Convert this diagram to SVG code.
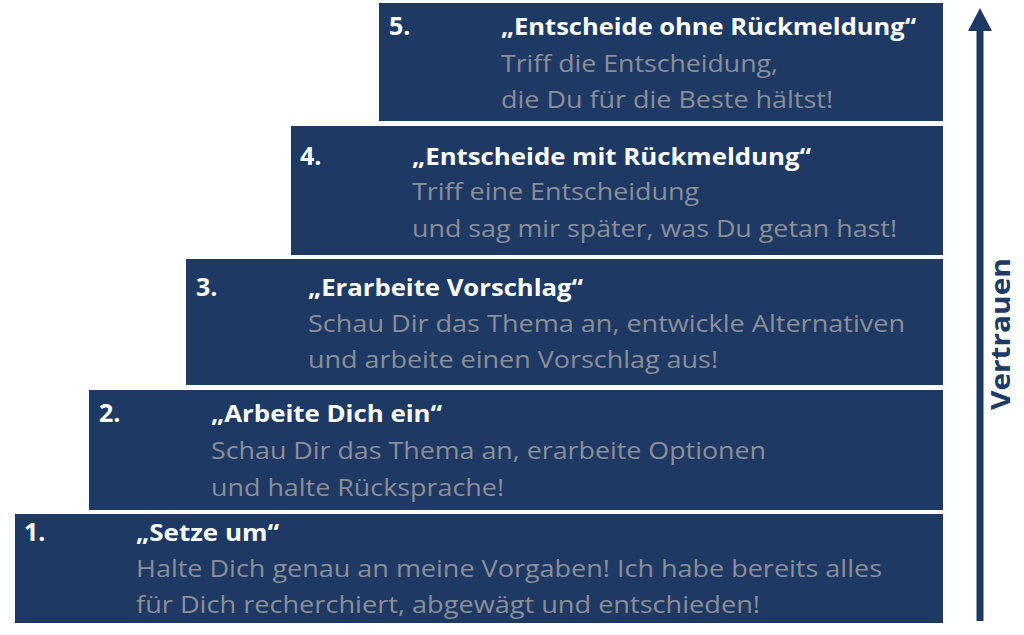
<svg xmlns="http://www.w3.org/2000/svg" width="1024" height="635" viewBox="0 0 1024 635">
<style>
.box{fill:#1e3963}
.num{font-family:"Open Sans","Liberation Sans",sans-serif;font-weight:bold;font-size:25px;fill:#ffffff}
.ttl{font-family:"Open Sans","Liberation Sans",sans-serif;font-weight:bold;font-size:24px;fill:#ffffff}
.body{font-family:"Open Sans","Liberation Sans",sans-serif;font-size:24px;fill:#8a8e98}
.lbl{font-family:"Open Sans","Liberation Sans",sans-serif;font-weight:bold;font-size:27px;fill:#1e3963}
</style>
<rect width="1024" height="635" fill="#ffffff"/>
<g id="step5">
<rect class="box" x="379" y="3" width="564" height="118"/>
<text class="num" x="389" y="35">5.</text>
<text class="ttl" x="501" y="35" textLength="415" lengthAdjust="spacingAndGlyphs">„Entscheide ohne Rückmeldung“</text>
<text class="body" x="501" y="72" textLength="277" lengthAdjust="spacingAndGlyphs">Triff die Entscheidung,</text>
<text class="body" x="501" y="108" textLength="332" lengthAdjust="spacingAndGlyphs">die Du für die Beste hältst!</text>
</g>
<g id="step4">
<rect class="box" x="291" y="126" width="652" height="129"/>
<text class="num" x="300" y="165">4.</text>
<text class="ttl" x="412" y="165" textLength="399" lengthAdjust="spacingAndGlyphs">„Entscheide mit Rückmeldung“</text>
<text class="body" x="412" y="200" textLength="287" lengthAdjust="spacingAndGlyphs">Triff eine Entscheidung</text>
<text class="body" x="412" y="237" textLength="485" lengthAdjust="spacingAndGlyphs">und sag mir später, was Du getan hast!</text>
</g>
<g id="step3">
<rect class="box" x="186" y="259" width="757" height="126"/>
<text class="num" x="196" y="296">3.</text>
<text class="ttl" x="308" y="296" textLength="275" lengthAdjust="spacingAndGlyphs">„Erarbeite Vorschlag“</text>
<text class="body" x="308" y="332" textLength="597" lengthAdjust="spacingAndGlyphs">Schau Dir das Thema an, entwickle Alternativen</text>
<text class="body" x="308" y="368" textLength="410" lengthAdjust="spacingAndGlyphs">und arbeite einen Vorschlag aus!</text>
</g>
<g id="step2">
<rect class="box" x="89" y="390" width="854" height="120"/>
<text class="num" x="99" y="422">2.</text>
<text class="ttl" x="211" y="422" textLength="231" lengthAdjust="spacingAndGlyphs">„Arbeite Dich ein“</text>
<text class="body" x="211" y="459" textLength="555" lengthAdjust="spacingAndGlyphs">Schau Dir das Thema an, erarbeite Optionen</text>
<text class="body" x="211" y="496" textLength="293" lengthAdjust="spacingAndGlyphs">und halte Rücksprache!</text>
</g>
<g id="step1">
<rect class="box" x="15" y="514" width="928" height="109"/>
<text class="num" x="24" y="541">1.</text>
<text class="ttl" x="136" y="541" textLength="143" lengthAdjust="spacingAndGlyphs">„Setze um“</text>
<text class="body" x="136" y="577" textLength="746" lengthAdjust="spacingAndGlyphs">Halte Dich genau an meine Vorgaben! Ich habe bereits alles</text>
<text class="body" x="136" y="613" textLength="624" lengthAdjust="spacingAndGlyphs">für Dich recherchiert, abgewägt und entschieden!</text>
</g>
<g id="connectors">
<line x1="980" y1="621" x2="980" y2="30" stroke="#1e3963" stroke-width="7"/>
<path d="M968,31 L980,8 L992,31 z" fill="#1e3963"/>
</g>
<g id="axis-label">
<text class="lbl" transform="translate(1010,410) rotate(-90)" textLength="152" lengthAdjust="spacingAndGlyphs">Vertrauen</text>
</g>
</svg>
